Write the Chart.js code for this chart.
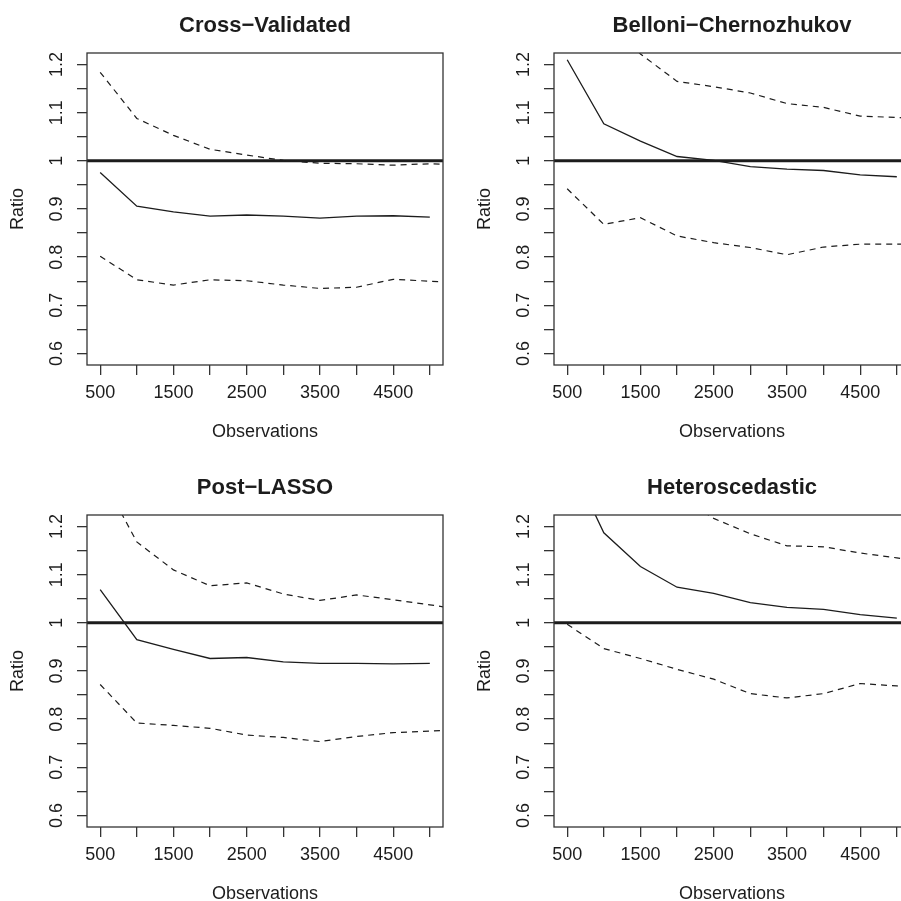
<!DOCTYPE html>
<html>
<head>
<meta charset="utf-8">
<script src="https://cdn.jsdelivr.net/npm/chart.js@4.4.1/dist/chart.umd.min.js"></script>
<style>
html,body{margin:0;padding:0;background:#fff;overflow:hidden;}
#wrap{position:relative;width:901px;height:901px;overflow:hidden;background:#fff;}
canvas{position:absolute;}
</style>
</head>
<body>
<div id="wrap">
<canvas id="c0" width="467" height="462" style="left:0px;top:0px;width:467px;height:462px"></canvas>
<canvas id="c1" width="467" height="462" style="left:467px;top:0px;width:467px;height:462px"></canvas>
<canvas id="c2" width="467" height="462" style="left:0px;top:462px;width:467px;height:462px"></canvas>
<canvas id="c3" width="467" height="462" style="left:467px;top:462px;width:467px;height:462px"></canvas>
</div>
<script>
// ---- data ----
const panelTitles = ['Cross\u2212Validated', 'Belloni\u2212Chernozhukov', 'Post\u2212LASSO', 'Heteroscedastic'];
const xValues = [500, 1000, 1500, 2000, 2500, 3000, 3500, 4000, 4500, 5000];
const xBand   = [500, 1000, 1500, 2000, 2500, 3000, 3500, 4000, 4500, 5000, 5500];
const xTicks = [500, 1000, 1500, 2000, 2500, 3000, 3500, 4000, 4500, 5000];
const xTickLabels = ['500', '', '1500', '', '2500', '', '3500', '', '4500', ''];
const yTicks = [0.6, 0.65, 0.7, 0.75, 0.8, 0.85, 0.9, 0.95, 1.0, 1.05, 1.1, 1.15, 1.2];
const yTickLabels = ['0.6', '', '0.7', '', '0.8', '', '0.9', '', '1', '', '1.1', '', '1.2'];
const xMin = 320, xMax = 5180;
const yMin = 0.576, yMax = 1.224;
const refLine = 1;

// Cross-Validated
const cvRatio = [0.976, 0.906, 0.894, 0.885, 0.8875, 0.885, 0.881, 0.885, 0.886, 0.883];
const cvUpper = [1.184, 1.088, 1.053, 1.024, 1.012, 1.001, 0.995, 0.994, 0.991, 0.994, 0.991];
const cvLower = [0.802, 0.753, 0.742, 0.753, 0.751, 0.742, 0.735, 0.7375, 0.754, 0.750, 0.747];
// Belloni-Chernozhukov
const bcRatio = [1.210, 1.077, 1.041, 1.009, 1.001, 0.988, 0.983, 0.980, 0.971, 0.967];
const bcUpper = [1.40, 1.30, 1.222, 1.165, 1.154, 1.141, 1.119, 1.111, 1.093, 1.090, 1.086];
const bcLower = [0.942, 0.868, 0.882, 0.844, 0.830, 0.820, 0.805, 0.821, 0.827, 0.827, 0.827];
// Post-LASSO
const plRatio = [1.069, 0.965, 0.945, 0.926, 0.928, 0.919, 0.916, 0.916, 0.915, 0.916];
const plUpper = [1.31, 1.168, 1.110, 1.077, 1.083, 1.060, 1.0465, 1.058, 1.048, 1.0375, 1.026];
const plLower = [0.872, 0.792, 0.787, 0.781, 0.767, 0.762, 0.7535, 0.764, 0.772, 0.775, 0.779];
// Heteroscedastic
const hsRatio = [1.347, 1.187, 1.117, 1.074, 1.061, 1.042, 1.032, 1.028, 1.017, 1.010];
const hsUpper = [1.55, 1.42, 1.33, 1.266, 1.217, 1.185, 1.160, 1.158, 1.145, 1.135, 1.124];
const hsLower = [0.997, 0.9465, 0.926, 0.9035, 0.883, 0.853, 0.844, 0.853, 0.874, 0.869, 0.864];

// ---- styling ----
const ink = '#1c1c1c';
const axisCol = '#333333';
Chart.defaults.font.family = "'Liberation Sans', Arial, Helvetica, sans-serif";
Chart.defaults.color = ink;

const boxPlugin = {
  id: 'rbox',
  afterDatasetsDraw(chart) {
    const a = chart.chartArea, ctx = chart.ctx;
    ctx.save();
    ctx.strokeStyle = axisCol;
    ctx.lineWidth = 1.3;
    ctx.strokeRect(a.left, a.top, a.right - a.left, a.bottom - a.top);
    ctx.restore();
  }
};

function pts(xs, ys) { return xs.map((x, i) => ({x: x, y: ys[i]})); }

function makePanel(id, title, ratio, upper, lower) {
  new Chart(document.getElementById(id), {
    type: 'line',
    data: {
      datasets: [
        {data: pts(xValues, ratio), borderColor: ink, borderWidth: 1.3, pointRadius: 0, tension: 0, fill: false},
        {data: pts(xBand, upper), borderColor: ink, borderWidth: 1.2, borderDash: [6, 5], pointRadius: 0, tension: 0, fill: false},
        {data: pts(xBand, lower), borderColor: ink, borderWidth: 1.2, borderDash: [6, 5], pointRadius: 0, tension: 0, fill: false},
        {data: [{x: xMin, y: refLine}, {x: xMax, y: refLine}], borderColor: ink, borderWidth: 3, pointRadius: 0, fill: false}
      ]
    },
    options: {
      responsive: false,
      animation: false,
      devicePixelRatio: 1,
      events: [],
      layout: {padding: {top: 0, left: 0, right: 24, bottom: 0}},
      plugins: {
        legend: {display: false},
        tooltip: {enabled: false},
        title: {
          display: true, text: title, fullSize: false, color: ink,
          font: {size: 22, weight: 'bold', lineHeight: 1.2},
          padding: {top: 13.1, bottom: 13.5}
        }
      },
      scales: {
        x: {
          type: 'linear', position: 'bottom', min: xMin, max: xMax,
          afterBuildTicks: s => { s.ticks = xTicks.map(v => ({value: v})); },
          afterFit: s => { s.height = 97; },
          ticks: {
            autoSkip: false, minRotation: 0, maxRotation: 0, padding: 7.5,
            color: ink, font: {size: 18},
            callback: (v, i) => xTickLabels[i]
          },
          grid: {drawOnChartArea: false, drawTicks: true, tickLength: 10, color: axisCol, lineWidth: 1.3},
          border: {display: false},
          title: {display: true, text: 'Observations', color: ink, font: {size: 18, lineHeight: 1.2}, padding: {top: 0, bottom: 19.2}}
        },
        y: {
          type: 'linear', position: 'left', min: yMin, max: yMax,
          afterBuildTicks: s => { s.ticks = yTicks.map(v => ({value: v})); },
          afterFit: s => { s.width = 87; },
          ticks: {
            autoSkip: false, minRotation: 90, maxRotation: 90, crossAlign: 'center', padding: 7.5,
            color: ink, font: {size: 18},
            callback: (v, i) => yTickLabels[i]
          },
          grid: {drawOnChartArea: false, drawTicks: true, tickLength: 10, color: axisCol, lineWidth: 1.3},
          border: {display: false},
          title: {display: true, text: 'Ratio', color: ink, font: {size: 18, lineHeight: 1.2}, padding: {top: 7.5, bottom: 0}}
        }
      }
    },
    plugins: [boxPlugin]
  });
}

makePanel('c0', panelTitles[0], cvRatio, cvUpper, cvLower);
makePanel('c1', panelTitles[1], bcRatio, bcUpper, bcLower);
makePanel('c2', panelTitles[2], plRatio, plUpper, plLower);
makePanel('c3', panelTitles[3], hsRatio, hsUpper, hsLower);
</script>
</body>
</html>
